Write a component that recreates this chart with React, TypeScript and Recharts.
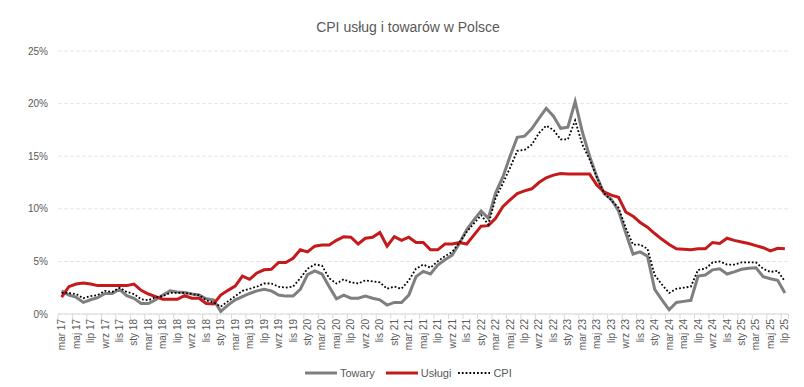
import { LineChart, Line, XAxis, YAxis, CartesianGrid } from 'recharts'

const MONTH_NAMES = ['sty', 'lut', 'mar', 'kwi', 'maj', 'cze', 'lip', 'sie', 'wrz', 'paź', 'lis', 'gru']
// first month of the series: March 2017, 101 months up to July 2025
const START_YEAR = 2017
const START_MONTH = 2
const MONTH_COUNT = 101

const TOWARY = [
  2.2, 1.8, 1.6, 1.1, 1.35, 1.55, 1.95, 1.95, 2.35, 1.75, 1.5, 1.0,
  1.0, 1.35, 1.8, 2.2, 2.1, 2.05, 1.9, 1.8, 1.45, 1.35, 0.25, 0.85,
  1.35, 1.65, 1.95, 2.2, 2.35, 2.2, 1.8, 1.7, 1.7, 2.35, 3.75, 4.1,
  3.8, 2.6, 1.45, 1.8, 1.5, 1.5, 1.7, 1.5, 1.35, 0.85, 1.1, 1.1,
  1.8, 3.55, 4.05, 3.8, 4.65, 5.15, 5.6, 6.7, 8.0, 8.95, 9.8, 9.1,
  11.5, 13.0, 15.0, 16.8, 16.9, 17.6, 18.6, 19.55, 18.8, 17.65, 17.75, 20.2,
  17.3, 15.0, 13.05, 11.45, 10.9, 9.8, 7.7, 5.7, 5.9, 5.5, 2.35, 1.35,
  0.4, 1.1, 1.2, 1.3, 3.6, 3.7, 4.2, 4.3, 3.8, 4.0, 4.25, 4.35,
  4.4, 3.55, 3.35, 3.2, 2.0,
]

const USLUGI = [
  1.6, 2.6, 2.85, 2.95, 2.85, 2.7, 2.7, 2.7, 2.7, 2.7, 2.85, 2.25,
  1.9, 1.65, 1.4, 1.4, 1.4, 1.75, 1.5, 1.5, 1.0, 0.95, 1.8, 2.25,
  2.65, 3.6, 3.3, 3.9, 4.2, 4.25, 4.9, 4.9, 5.3, 6.1, 5.9, 6.45,
  6.55, 6.55, 7.0, 7.35, 7.3, 6.65, 7.2, 7.3, 7.75, 6.45, 7.35, 7.0,
  7.3, 6.8, 6.8, 6.1, 6.1, 6.65, 6.65, 6.8, 6.65, 7.5, 8.35, 8.4,
  9.1, 10.2, 10.85, 11.45, 11.7, 11.9, 12.5, 12.95, 13.2, 13.35, 13.3, 13.3,
  13.3, 13.3, 12.25, 11.6, 11.3, 11.1, 9.7, 9.3, 8.7, 8.25, 7.65, 7.1,
  6.6, 6.2, 6.15, 6.1, 6.2, 6.2, 6.8, 6.7, 7.2, 7.0, 6.85, 6.7,
  6.5, 6.3, 6.0, 6.25, 6.2,
]

const CPI = [
  2.0, 2.0, 1.9, 1.5, 1.7, 1.8, 2.2, 2.1, 2.5, 2.1, 1.9, 1.4,
  1.3, 1.6, 1.7, 2.0, 2.0, 2.0, 1.9, 1.8, 1.3, 1.1, 0.7, 1.2,
  1.7, 2.2, 2.4, 2.6, 2.9, 2.9, 2.6, 2.5, 2.6, 3.4, 4.3, 4.7,
  4.6, 3.4, 2.9, 3.3, 3.0, 2.9, 3.2, 3.1, 3.0, 2.4, 2.6, 2.4,
  3.2, 4.3, 4.7, 4.4, 5.0, 5.5, 5.9, 6.8, 7.8, 8.6, 9.4, 8.5,
  11.0, 12.4, 13.9, 15.5, 15.6, 16.1, 17.2, 17.9, 17.5, 16.6, 16.6, 18.4,
  16.1, 14.7, 13.0, 11.5, 10.8, 10.1, 8.2, 6.6, 6.6, 6.2, 3.7, 2.8,
  2.0, 2.4, 2.5, 2.6, 4.2, 4.3, 4.9, 5.0, 4.7, 4.7, 4.9, 4.9,
  4.9, 4.3, 4.0, 4.1, 3.1,
]

const Y_TICKS = [0, 5, 10, 15, 20, 25]

const SERIES = [
  { key: 'towary', name: 'Towary', color: '#7F7F7F', width: 3, dash: undefined as string | undefined },
  { key: 'uslugi', name: 'Usługi', color: '#C5191B', width: 3, dash: undefined as string | undefined },
  { key: 'cpi', name: 'CPI', color: '#000000', width: 1.8, dash: '1.8 2' },
]

const labels = Array.from({ length: MONTH_COUNT }, (_, i) => {
  const m = START_MONTH + i
  const yy = String((START_YEAR + Math.floor(m / 12)) % 100).padStart(2, '0')
  return `${MONTH_NAMES[m % 12]} ${yy}`
})

const data = labels.map((month, i) => ({
  month,
  towary: TOWARY[i],
  uslugi: USLUGI[i],
  cpi: CPI[i],
}))

const FONT = '"Liberation Sans", Arial, sans-serif'
const TEXT = '#595959'
const W = 804
const H = 387
const PLOT_LEFT = 58
const PLOT_RIGHT = 788.5
const HALF = (PLOT_RIGHT - PLOT_LEFT) / MONTH_COUNT / 2

// eslint-disable-next-line @typescript-eslint/no-explicit-any
function MonthTick({ x, y, payload }: any) {
  const last = payload.value === labels[labels.length - 1]
  return (
    <g>
      <line x1={x - HALF} x2={x - HALF} y1={y} y2={y + 5} stroke="#D9D9D9" />
      {last && <line x1={x + HALF} x2={x + HALF} y1={y} y2={y + 5} stroke="#D9D9D9" />}
      <text
        transform={`translate(${x + 3.5},${y + 5}) rotate(-90)`}
        textAnchor="end"
        fontSize={10}
        fontFamily={FONT}
        fill={TEXT}
      >
        {payload.value}
      </text>
    </g>
  )
}

export default function App() {
  return (
    <div style={{ position: 'absolute', left: 0, top: 0, width: W, height: H, background: '#fff', fontFamily: FONT }}>
      <div
        style={{
          position: 'absolute',
          left: 0,
          top: 19,
          width: 816,
          textAlign: 'center',
          fontSize: 14,
          lineHeight: '16px',
          color: TEXT,
        }}
      >
        CPI usług i towarów w Polsce
      </div>
      <LineChart
        width={W}
        height={H}
        data={data}
        margin={{ top: 51, right: W - PLOT_RIGHT, left: 0, bottom: 28 }}
      >
        <CartesianGrid vertical={false} stroke="#E6E6E6" strokeDasharray="4 2" />
        <XAxis
          dataKey="month"
          interval={1}
          height={45}
          padding={{ left: HALF, right: HALF }}
          axisLine={{ stroke: '#D9D9D9' }}
          tickLine={false}
          tickSize={0}
          tickMargin={0}
          tick={<MonthTick />}
        />
        <YAxis
          width={PLOT_LEFT}
          domain={[0, 25]}
          ticks={Y_TICKS}
          axisLine={false}
          tickLine={false}
          tickSize={0}
          tickMargin={10}
          tickFormatter={(v: number) => `${v}%`}
          tick={{ fill: TEXT, fontSize: 10, fontFamily: FONT }}
        />
        {SERIES.map((s) => (
          <Line
            key={s.key}
            type="linear"
            dataKey={s.key}
            name={s.name}
            stroke={s.color}
            strokeWidth={s.width}
            strokeDasharray={s.dash}
            dot={false}
            activeDot={false}
            isAnimationActive={false}
          />
        ))}
      </LineChart>
      <div
        style={{
          position: 'absolute',
          left: 305,
          top: 366,
          display: 'flex',
          alignItems: 'center',
          fontSize: 11,
          color: TEXT,
          lineHeight: '14px',
        }}
      >
        {SERIES.map((s, i) => (
          <div key={s.key} style={{ display: 'flex', alignItems: 'center', marginRight: i === 0 ? 11 : 7 }}>
            <svg width={32} height={8} style={{ marginRight: 3 }}>
              <line
                x1={0}
                x2={32}
                y1={4}
                y2={4}
                stroke={s.color}
                strokeWidth={s.width}
                strokeDasharray={s.dash}
              />
            </svg>
            <span>{s.name}</span>
          </div>
        ))}
      </div>
    </div>
  )
}
